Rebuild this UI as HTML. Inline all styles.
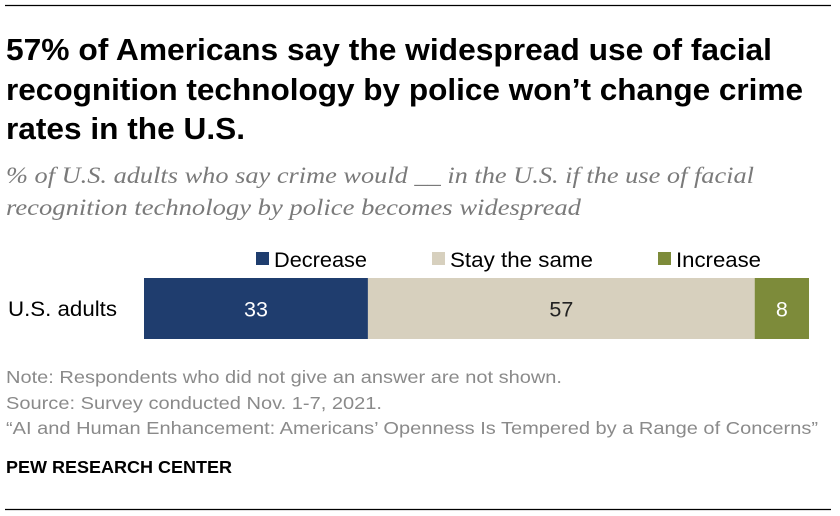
<!DOCTYPE html>
<html><head><meta charset="utf-8"><style>
body{margin:0;background:#fff}
svg{display:block;font-family:"Liberation Sans",sans-serif}
</style></head><body>
<svg width="840" height="516">
<line x1="5" y1="5.5" x2="831" y2="5.5" stroke="#000" stroke-width="1.2"/>
<g font-weight="bold" font-size="30.5" fill="#000" lengthAdjust="spacingAndGlyphs">
<text x="6" y="60" textLength="766" lengthAdjust="spacingAndGlyphs">57% of Americans say the widespread use of facial</text>
<text x="6" y="100" textLength="797" lengthAdjust="spacingAndGlyphs">recognition technology by police won’t change crime</text>
<text x="6" y="139" textLength="239" lengthAdjust="spacingAndGlyphs">rates in the U.S.</text>
</g>
<g font-family="Liberation Serif,serif" font-style="italic" font-size="23" fill="#7a7a7a">
<text x="6" y="183" textLength="748" lengthAdjust="spacingAndGlyphs">% of U.S. adults who say crime would __ in the U.S. if the use of facial</text>
<text x="6" y="215" textLength="575" lengthAdjust="spacingAndGlyphs">recognition technology by police becomes widespread</text>
</g>
<g id="legend"></g>
<text x="8" y="316" font-size="21" fill="#000" textLength="109" lengthAdjust="spacingAndGlyphs">U.S. adults</text>
<g id="bars"></g>
<g font-size="17.5" fill="#8a8a8a">
<text x="6" y="383" textLength="556" lengthAdjust="spacingAndGlyphs">Note: Respondents who did not give an answer are not shown.</text>
<text x="6" y="409" textLength="376" lengthAdjust="spacingAndGlyphs">Source: Survey conducted Nov. 1-7, 2021.</text>
<text x="6" y="434" textLength="812" lengthAdjust="spacingAndGlyphs">“AI and Human Enhancement: Americans’ Openness Is Tempered by a Range of Concerns”</text>
</g>
<text x="6" y="473" font-size="17.5" font-weight="bold" fill="#000" textLength="226" lengthAdjust="spacingAndGlyphs">PEW RESEARCH CENTER</text>
<line x1="5" y1="509.5" x2="831" y2="509.5" stroke="#000" stroke-width="1.2"/>
</svg>
<script>
const categories=["Decrease","Stay the same","Increase"];
const values=[33,57,8];
const colors=["#1f3d6e","#d7d0be","#7d8b3a"];
const labelColors=["#fff","#222","#fff"];
const legendX=[256,432,658];
const legendW=[93,143,85];
const ns="http://www.w3.org/2000/svg";
const x0=144,scale=665/98,y0=278,h=61;
function xs(v){return x0+v*scale;}
const bars=document.getElementById('bars'),leg=document.getElementById('legend');
let acc=0;
values.forEach((v,i)=>{
  const r=document.createElementNS(ns,'rect');
  
  
  r.setAttribute('x',xs(acc));r.setAttribute('y',y0);
  r.setAttribute('width',xs(acc+v)-xs(acc));r.setAttribute('height',h);
  r.setAttribute('fill',colors[i]);bars.appendChild(r);
  const t=document.createElementNS(ns,'text');
  
  
  t.setAttribute('x',(xs(acc)+xs(acc+v))/2);t.setAttribute('y',y0+h/2+8);
  t.setAttribute('text-anchor','middle');t.setAttribute('font-size','21.5');
  t.setAttribute('fill',labelColors[i]);t.textContent=v;bars.appendChild(t);
  acc+=v;
  const s=document.createElementNS(ns,'rect');
  
  
  s.setAttribute('x',legendX[i]);s.setAttribute('y',252);s.setAttribute('width',13);s.setAttribute('height',13);
  s.setAttribute('fill',colors[i]);leg.appendChild(s);
  const lt=document.createElementNS(ns,'text');
  
  
  lt.setAttribute('x',legendX[i]+18);lt.setAttribute('y',267);lt.setAttribute('font-size','21');
  lt.setAttribute('textLength',legendW[i]);lt.setAttribute('lengthAdjust','spacingAndGlyphs');
  lt.setAttribute('fill','#000');lt.textContent=categories[i];leg.appendChild(lt);
});
</script>
</body></html>
